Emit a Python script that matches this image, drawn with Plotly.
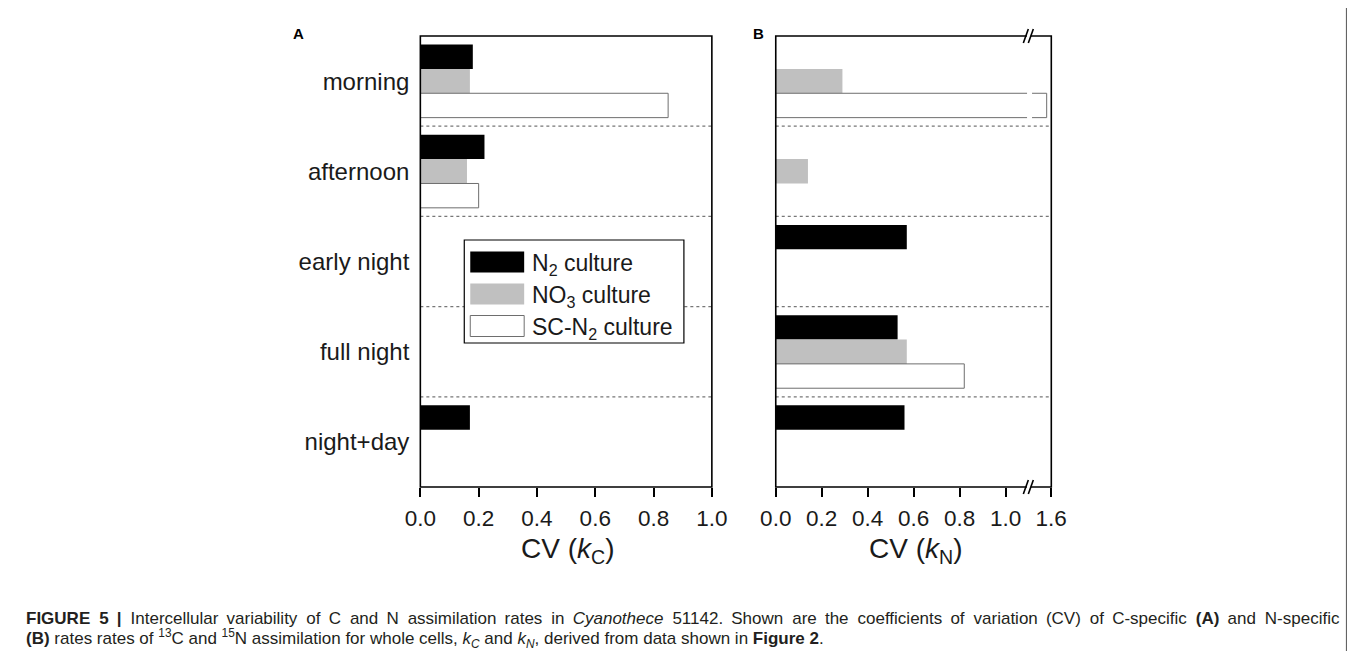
import plotly.graph_objects as go

# Figure size; positions below are given in target-picture pixels and converted
# with the observed page placement (x: 0.978*fig + 22, y: fig + 8).
W, H = 1355, 648
SX, OX, OY = 0.978, 22.0, 8.0

# ---------------- data ----------------
categories = ["morning", "afternoon", "early night", "full night", "night+day"]
series_names = ["N<sub>2</sub> culture", "NO<sub>3</sub> culture", "SC-N<sub>2</sub> culture"]
series_colors = ["#000000", "#c0c0c0", "#ffffff"]
series_lines = ["#000000", "#c0c0c0", "#6e6e6e"]

# Panel A: CV(kC)
cv_kC_N2 = [0.18, 0.22, None, None, 0.17]
cv_kC_NO3 = [0.17, 0.16, None, None, None]
cv_kC_SCN2 = [0.85, 0.20, None, None, None]

# Panel B: CV(kN)
cv_kN_N2 = [None, None, 0.57, 0.53, 0.56]
cv_kN_NO3 = [0.29, 0.14, None, 0.57, None]
cv_kN_SCN2 = [1.58, None, None, 0.82, None]

xticks_A = [0.0, 0.2, 0.4, 0.6, 0.8, 1.0]
xticks_B = [0.0, 0.2, 0.4, 0.6, 0.8, 1.0]
xticks_B_upper = [1.6]

caption_1 = ("<b>FIGURE 5 |</b> Intercellular variability of C and N assimilation rates in <i>Cyanothece</i> 51142. "
             "Shown are the coefficients of variation (CV) of C-specific <b>(A)</b> and N-specific")
caption_2 = ("<b>(B)</b> rates rates of <sup>13</sup>C and <sup>15</sup>N assimilation for whole cells, "
             "<i>k<sub>C</sub></i> and <i>k<sub>N</sub></i>, derived from data shown in <b>Figure 2</b>.")


# ---------------- helpers (target pixel -> paper) ----------------
def X(px):
    return ((px - OX) / SX) / W


def Y(py):
    return 1 - (py - OY) / H


def justify(text):
    # widen word gaps (the reference's first caption line is justified)
    parts = text.split(" ")
    out = parts[0]
    for j, p in enumerate(parts[1:]):
        out += " " + ("\u2005" if j % 2 == 0 else "\u2009") + p
    return out


A_L, A_R = 419, 711
B_L, B_BRK1, B_BRK2, B_R = 775, 1026.7, 1031.7, 1051
P_T, P_B = 36, 487

FONT = "Liberation Sans, Arial, sans-serif"

fig = go.Figure()

panelA = [cv_kC_N2, cv_kC_NO3, cv_kC_SCN2]
panelB = [cv_kN_N2, cv_kN_NO3, cv_kN_SCN2]


def add_bars(vals, xa, ya):
    for i in range(3):
        fig.add_trace(go.Bar(
            y=categories, x=vals[i], orientation="h", name=series_names[i],
            marker=dict(color=series_colors[i],
                        line=dict(color=series_lines[i], width=1 if i == 2 else 0)),
            xaxis=xa, yaxis=ya, showlegend=False, hoverinfo="skip"))


add_bars(panelA, "x", "y")
add_bars(panelB, "x2", "y2")
add_bars(panelB, "x3", "y2")   # segment of panel B beyond the axis break

tickfont = dict(family=FONT, size=22.5, color="#1a1a1a")
xcommon = dict(showgrid=False, zeroline=False, showline=False, ticks="outside", ticklen=9,
               tickwidth=1.5, tickcolor="#000", tickfont=tickfont, tickmode="array",
               ticklabelstandoff=2, fixedrange=True)
ydom = [Y(P_B), Y(P_T)]
ycommon = dict(showgrid=False, zeroline=False, showline=False, type="category",
               categoryorder="array", categoryarray=categories, range=[4.5, -0.5],
               fixedrange=True)

fig.update_layout(
    width=W, height=H, margin=dict(l=0, r=0, t=0, b=0),
    paper_bgcolor="white", plot_bgcolor="white",
    barmode="group", bargap=0.19, bargroupgap=0,
    showlegend=False,
    xaxis=dict(domain=[X(A_L), X(A_R)], range=[0, 1], anchor="y",
               tickvals=xticks_A, ticktext=[f"{v:.1f}" for v in xticks_A], **xcommon),
    yaxis=dict(domain=ydom, anchor="x", ticks="",
               tickfont=dict(family=FONT, size=24, color="#1a1a1a"),
               ticklabelstandoff=10, **ycommon),
    xaxis2=dict(domain=[X(B_L), X(B_BRK1)], range=[0, 1.093], anchor="y2",
                tickvals=xticks_B, ticktext=[f"{v:.1f}" for v in xticks_B], **xcommon),
    yaxis2=dict(domain=ydom, anchor="x2", ticks="", showticklabels=False, **ycommon),
    xaxis3=dict(domain=[X(B_BRK2), X(B_R)], range=[1.515, 1.6005], anchor="y2",
                tickvals=xticks_B_upper, ticktext=[f"{v:.1f}" for v in xticks_B_upper], **xcommon),
)

shapes = []
# dotted separators
for k in [0.5, 1.5, 2.5, 3.5]:
    shapes.append(dict(type="line", xref="paper", yref="y", x0=X(A_L), x1=X(A_R), y0=k, y1=k,
                       line=dict(color="#777", width=1.2, dash="dot")))
    shapes.append(dict(type="line", xref="paper", yref="y2", x0=X(B_L), x1=X(B_R), y0=k, y1=k,
                       line=dict(color="#777", width=1.2, dash="dot")))
# panel frames
for l, r in [(A_L, A_R), (B_L, B_R)]:
    shapes.append(dict(type="rect", xref="paper", yref="paper", x0=X(l), x1=X(r), y0=Y(P_B), y1=Y(P_T),
                       line=dict(color="#000", width=1.6), fillcolor="rgba(0,0,0,0)"))
# axis break marks
for yy in [P_T, P_B]:
    shapes.append(dict(type="rect", xref="paper", yref="paper", x0=X(1026.5), x1=X(1030.5),
                       y0=Y(yy + 2), y1=Y(yy - 2), line=dict(width=0), fillcolor="white"))
    for x0 in [1023, 1028]:
        shapes.append(dict(type="line", xref="paper", yref="paper", x0=X(x0), x1=X(x0 + 5),
                           y0=Y(yy + 7), y1=Y(yy - 7), line=dict(color="#000", width=1.6)))
# legend box
LG_L, LG_R, LG_T, LG_B = 463, 683, 240, 343
shapes.append(dict(type="rect", xref="paper", yref="paper", x0=X(LG_L), x1=X(LG_R), y0=Y(LG_B), y1=Y(LG_T),
                   line=dict(color="#000", width=1.2), fillcolor="white"))
legend_rows = [262, 294, 326]
for i, cy in enumerate(legend_rows):
    shapes.append(dict(type="rect", xref="paper", yref="paper", x0=X(469), x1=X(523),
                       y0=Y(cy + 10.5), y1=Y(cy - 10.5),
                       line=dict(color=series_lines[i], width=1 if i == 2 else 0),
                       fillcolor=series_colors[i]))
# outer figure frame (right side; the left side falls outside the drawable page)
shapes.append(dict(type="line", xref="paper", yref="paper", x0=(W - 0.6) / W, x1=(W - 0.6) / W,
                   y0=Y(651), y1=1, line=dict(color="#555", width=1)))

annotations = []
for i, cy in enumerate(legend_rows):
    annotations.append(dict(xref="paper", yref="paper", x=X(529), y=Y(cy + 2), text=series_names[i],
                            showarrow=False, xanchor="left", yanchor="middle",
                            font=dict(family=FONT, size=23, color="#1a1a1a")))
annotations += [
    dict(xref="paper", yref="paper", x=X(297), y=Y(34), text="<b>A</b>", showarrow=False,
         xanchor="center", yanchor="middle", font=dict(family=FONT, size=15, color="#000")),
    dict(xref="paper", yref="paper", x=X(758), y=Y(34), text="<b>B</b>", showarrow=False,
         xanchor="center", yanchor="middle", font=dict(family=FONT, size=15, color="#000")),
    dict(xref="paper", yref="paper", x=X(566), y=Y(550), text="CV (<i>k</i><sub>C</sub>)", showarrow=False,
         xanchor="center", yanchor="middle", font=dict(family=FONT, size=28, color="#1a1a1a")),
    dict(xref="paper", yref="paper", x=X(915), y=Y(550), text="CV (<i>k</i><sub>N</sub>)", showarrow=False,
         xanchor="center", yanchor="middle", font=dict(family=FONT, size=28, color="#1a1a1a")),
    dict(xref="paper", yref="paper", x=X(22), y=Y(618.5), xanchor="left", yanchor="middle", showarrow=False,
         align="left", text=justify(caption_1),
         font=dict(family=FONT, size=17, color="#231f20")),
    dict(xref="paper", yref="paper", x=X(22), y=Y(638.5), xanchor="left", yanchor="middle", showarrow=False,
         align="left", text=caption_2,
         font=dict(family=FONT, size=17, color="#231f20")),
]

fig.update_layout(shapes=shapes, annotations=annotations)
fig.write_html("out.html")
